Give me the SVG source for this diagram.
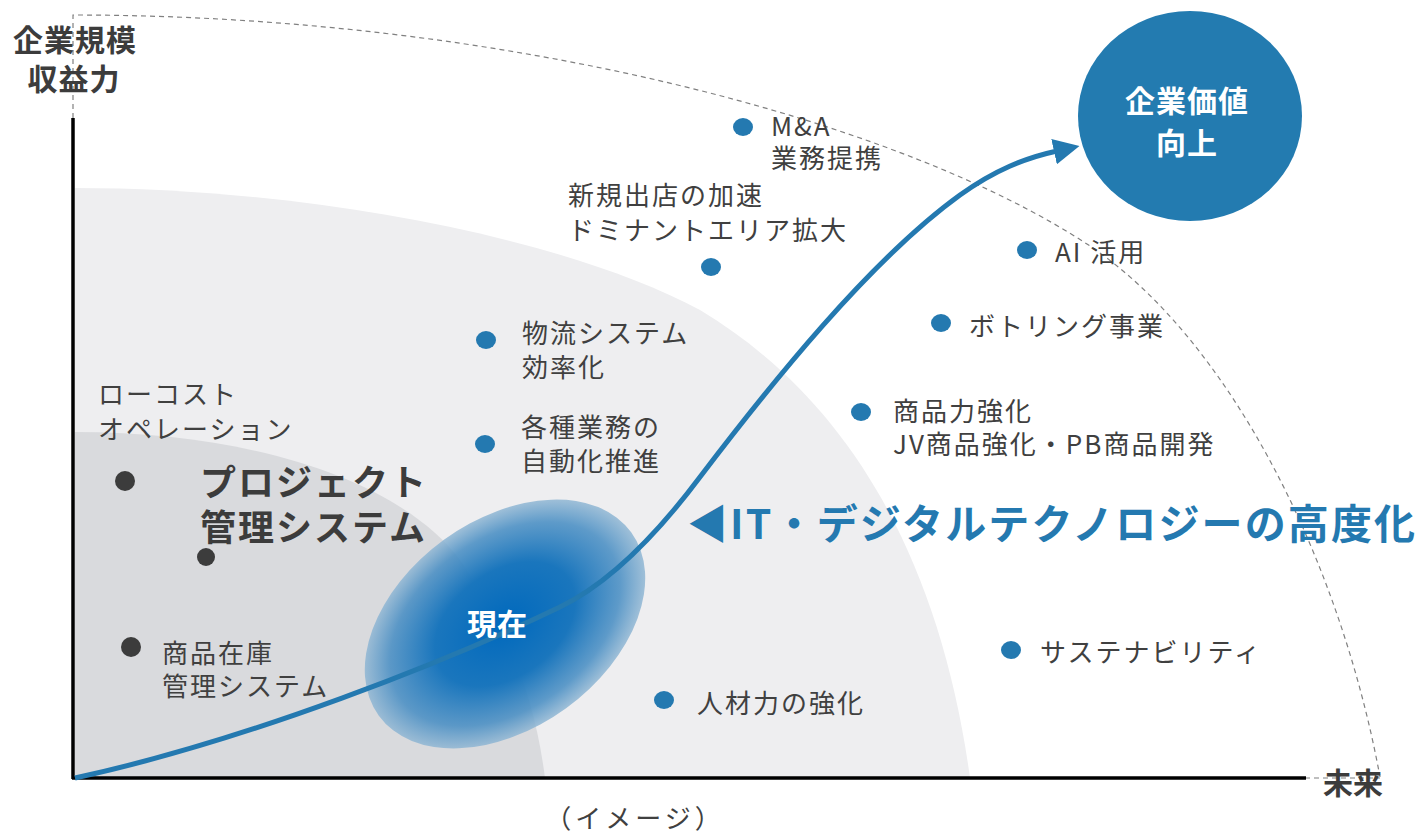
<svg xmlns="http://www.w3.org/2000/svg" width="1420" height="833" viewBox="0 0 1420 833">
<defs>
<style>
.lbl{font-family:"Noto Sans CJK JP","Noto Sans",sans-serif;font-size:26px;fill:#404040;letter-spacing:2px}
.big{font-family:"Noto Sans CJK JP","Noto Sans",sans-serif;font-weight:700;fill:#3c3c3c}
.wht{font-family:"Noto Sans CJK JP","Noto Sans",sans-serif;font-weight:700;fill:#ffffff;text-anchor:middle}
.dot{fill:#2479b0}
.kdot{fill:#3c3c3c}
.dash{fill:none;stroke:#808080;stroke-width:1.2;stroke-dasharray:5 4}
</style>
<radialGradient id="gNow" cx="0.5" cy="0.5" r="0.5">
<stop offset="0" stop-color="#0069bd" stop-opacity="1"/>
<stop offset="0.5" stop-color="#1a76bd" stop-opacity="1"/>
<stop offset="0.82" stop-color="#4a8fc4" stop-opacity="0.88"/>
<stop offset="1" stop-color="#8db5d3" stop-opacity="0.82"/>
</radialGradient>
<marker id="arr" viewBox="0 0 26 26" refX="3" refY="13" markerWidth="26" markerHeight="26" markerUnits="userSpaceOnUse" orient="auto">
<path d="M0,0 L26,13 L0,26 z" fill="#2479b0"/>
</marker>
</defs>
<rect width="1420" height="833" fill="#ffffff"/>
<g id="regions">
<path d="M75,778 V188 C300,188 560,235 700,310 C850,400 940,560 970,778 Z" fill="#eeeef0"/>
<path d="M75,778 V432 C250,432 400,480 460,560 C510,630 535,700 545,778 Z" fill="#d9dadd"/>
</g>
<g id="guides">
<path class="dash" d="M73,118 V15 C500,15 900,120 1090,246 C1230,340 1340,560 1380,777"/>
<path class="dash" d="M1305,778 H1380"/>
</g>
<g id="axes">
<line x1="73" y1="118" x2="73" y2="779" stroke="#000" stroke-width="3.5"/>
<line x1="72" y1="778" x2="1306" y2="778" stroke="#000" stroke-width="3.5"/>
<text class="big" font-size="30" x="75" y="51" text-anchor="middle" letter-spacing="1">企業規模</text>
<text class="big" font-size="30" x="74" y="90" text-anchor="middle" letter-spacing="1">収益力</text>
<text class="big" font-size="30" x="1353" y="794" text-anchor="middle">未来</text>
<text class="lbl" x="635" y="828" text-anchor="middle" style="letter-spacing:4px">（イメージ）</text>
</g>
<g id="now">
<ellipse cx="505" cy="624" rx="156" ry="104" transform="rotate(-36 505 624)" fill="url(#gNow)"/>
</g>
<g id="connectors">
<path d="M75,778 C250,740 450,660 560,607 C620,578 670,517 700,477 C770,385 870,260 960,195 C995,170 1025,158 1057,151" fill="none" stroke="#2479b0" stroke-width="5" marker-end="url(#arr)"/>
</g>
<g id="now-label">
<text class="wht" font-size="30" x="497" y="635">現在</text>
</g>
<g id="goal">
<ellipse cx="1190" cy="116" rx="112" ry="105" fill="#237bb0"/>
<text class="wht" font-size="30" x="1187" y="112" letter-spacing="1">企業価値</text>
<text class="wht" font-size="30" x="1187" y="154" letter-spacing="1">向上</text>
</g>
<g id="n-ma"><ellipse class="dot" cx="743" cy="127" rx="10" ry="9"/><text class="lbl" x="771" y="136">M&amp;A</text><text class="lbl" x="771" y="168">業務提携</text></g>
<g id="n-shinki"><ellipse class="dot" cx="711" cy="267" rx="10" ry="9"/><text class="lbl" x="568" y="205">新規出店の加速</text><text class="lbl" x="568" y="240">ドミナントエリア拡大</text></g>
<g id="n-ai"><ellipse class="dot" cx="1027" cy="250" rx="10" ry="9"/><text class="lbl" x="1055" y="262">AI 活用</text></g>
<g id="n-bottling"><ellipse class="dot" cx="941" cy="323" rx="10" ry="9"/><text class="lbl" x="969" y="336">ボトリング事業</text></g>
<g id="n-butsuryu"><ellipse class="dot" cx="486" cy="340" rx="10" ry="9"/><text class="lbl" x="522" y="343">物流システム</text><text class="lbl" x="522" y="377">効率化</text></g>
<g id="n-lowcost"><text class="lbl" x="98" y="404">ローコスト</text><text class="lbl" x="98" y="439">オペレーション</text></g>
<g id="n-kakushu"><ellipse class="dot" cx="485" cy="444" rx="10" ry="9"/><text class="lbl" x="521" y="437">各種業務の</text><text class="lbl" x="521" y="471">自動化推進</text></g>
<g id="n-shohin"><ellipse class="dot" cx="861" cy="412" rx="10" ry="9"/><text class="lbl" x="893" y="421">商品力強化</text><text class="lbl" x="893" y="454">JV商品強化・PB商品開発</text></g>
<g id="n-project"><circle class="kdot" cx="125" cy="481" r="10"/><circle class="kdot" cx="206" cy="557" r="9"/><text class="big" font-size="36" x="200" y="496" letter-spacing="2">プロジェクト</text><text class="big" font-size="36" x="200" y="541" letter-spacing="2">管理システム</text></g>
<g id="n-zaiko"><circle class="kdot" cx="131" cy="647" r="10"/><text class="lbl" x="162" y="663">商品在庫</text><text class="lbl" x="162" y="696">管理システム</text></g>
<g id="n-jinzai"><ellipse class="dot" cx="664" cy="700" rx="10" ry="9"/><text class="lbl" x="697" y="713">人材力の強化</text></g>
<g id="n-sustain"><ellipse class="dot" cx="1011" cy="650" rx="10" ry="9"/><text class="lbl" x="1040" y="662">サステナビリティ</text></g>
<g id="n-it"><text font-family="&quot;Noto Sans CJK JP&quot;,&quot;Noto Sans&quot;,sans-serif" font-weight="700" font-size="41" fill="#2479b0" x="687" y="539" textLength="728" lengthAdjust="spacing">◀IT・デジタルテクノロジーの高度化</text></g>
</svg>
